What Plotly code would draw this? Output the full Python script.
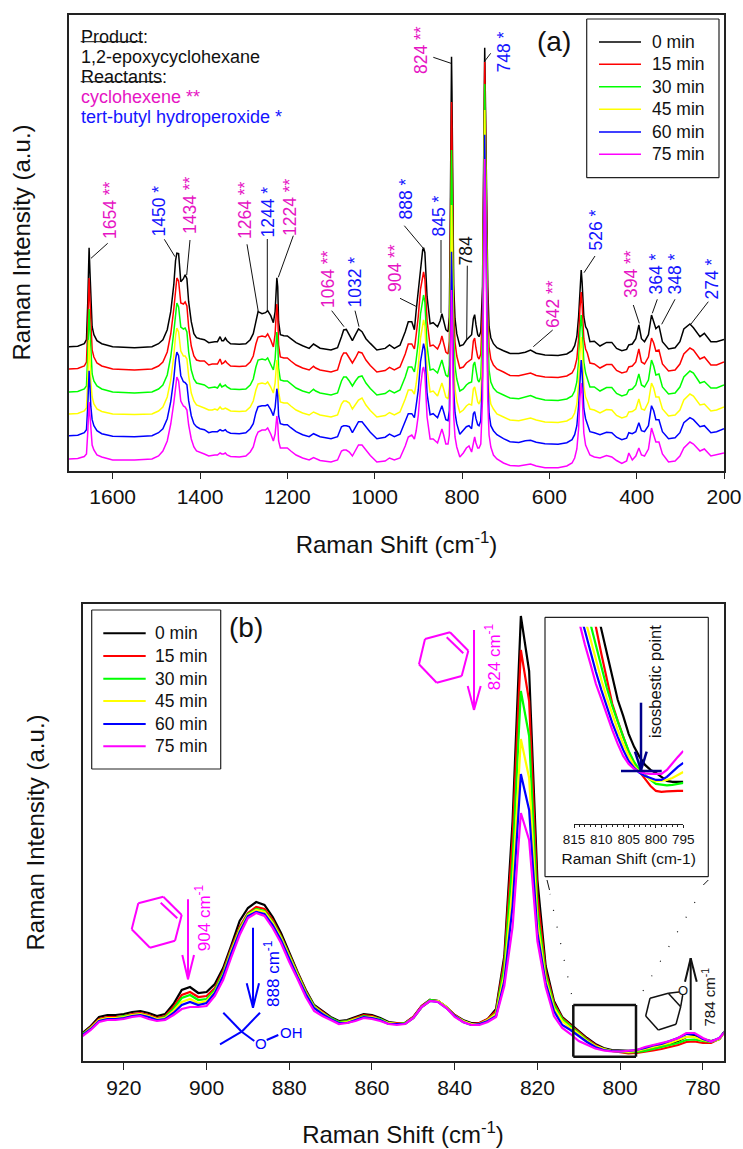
import plotly.graph_objects as go

W, H = 743, 1149
FONT = "Liberation Sans, Arial, sans-serif"
MINUTES = ["0 min", "15 min", "30 min", "45 min", "60 min", "75 min"]
COLORS = ["#000000", "#FF0000", "#00FF00", "#FFFF00", "#0000FF", "#FF00FF"]
PINK = "#E614C4"
BLUE = "#1414FF"
INK = "#111111"

# ---- Panel (a): Raman shift and net intensity of each spectrum ----
shift_a = [
    1700,1680,1665,1660,1657,1654,1652,1650,1647,1643,
    1636,1625,1600,1550,1510,1495,1485,1475,1467,1460,
    1456,1453,1449,1444,1438,1434,1430,1426,1420,1414,
    1408,1400,1390,1380,1372,1366,1360,1354,1350,1346,
    1342,1338,1330,1310,1295,1285,1278,1272,1267,1258,
    1250,1245,1238,1232,1228,1224,1222,1220,1216,1208,
    1200,1192,1180,1165,1150,1140,1135,1125,1100,1085,
    1076,1071,1065,1058,1051,1044,1037,1029,1020,1010,
    995,976,966,955,942,930,923,915,909,905,
    900,895,890,888,885,880,873,866,856,850,
    846,842,837,832,829,827,825,824,823,821,
    819,816,812,805,797,790,784,778,774,771,
    768,764,761,757,753,750,748,746,744,741,
    738,734,728,720,705,690,670,655,643,630,
    610,580,560,548,542,537,533,530,527,525,
    523,521,517,513,507,497,484,469,457,446,
    434,423,418,410,402,395,389,382,373,366,
    361,356,349,341,327,312,301,292,278,270,
    255,245,230,217,200]
a_0 = [
    0,0.5,3,7,45,99,75,42,20,12,
    6,3,0,-1,0,3,7,17,35,62,
    86,93.5,93,65,68,72,68,45,25,13,
    9,8,7,4,5,5,5,10,6,6,
    8.7,6,3,2.5,3,7,13,25,35,33,
    34,36,31,24,35,69,60,25,12,11,
    10.7,8,4,1,-1.7,2.7,1,-1.5,-3.3,-1,
    10,16.7,17.3,12,6,12,17.7,15,8,3.3,
    -3.3,-1.7,1.7,-1.7,1.5,15,25,25,17,36,
    55,80,97,99,94,50,23,24,20,26,
    33,26,17,15,30,120,250,290,255,140,
    62,28,13,0.7,2,6.7,9,12,28,32,
    22,12,10,15,60,200,299,235,140,60,
    20,9,3,-1,-4,-6.7,-6.7,-5.5,-3.3,-6.5,
    -8.3,-8.7,-7.3,-4,1,10,30,60,76.7,65,
    45,30,20,17,5,5.5,0.7,4.3,4.3,-1.7,
    -4,-2.7,1.7,2.7,8,21.7,8,5,12,31.7,
    25,18,21,5,-2.3,-1,5,17.7,22.7,19,
    10,13.3,5,5,7.3]
a_15 = [
    0,0.5,3,7,42,91,69,39,19,12,
    6,3,0,-1,0,3,7,17,35,60,
    82,91,88,66,65,67,63,42,23,13,
    9,8,8,4,5,5,5,10,5,6,
    8,6,3,2.5,3,7,13,25,32,33,
    32,35,29,22,35,65,54,24,12,11,
    11,8,4,1,-1,2.7,1,-1,-3,-1,
    12,16,16,11,6,11,17,16,9,3.5,
    -3,-1.5,1.7,-1,2,15,25,25,20,34,
    53,80,96,97,90,48,23,24,20,26,
    33,26,17,15,28,110,230,267,235,125,
    58,27,13,0.7,2,6,8,10,28,31,
    21,12,10,15,60,205,307,240,145,60,
    22,10,4,0,-3,-6.5,-6.7,-5,-4,-6.5,
    -8,-8.5,-7,-4,1,10,30,60,77,65,
    45,30,20,16,6,5,1,4.5,4.5,-1.5,
    -4,-2.7,2,3,7,20,7,5,12,31,
    26,18,19,5,-2,-1,5,15,21,19,
    10,12,4,4,7]
a_30 = [
    0,0.5,3,6,38,83,63,36,18,11,
    6,3,0,-1,0,3,7,17,35,60,
    80,89,85,65,63,64,60,40,22,13,
    9,8,7,4,5,5,4,8,5,6,
    7,5,3,2.5,3,7,13,25,32,33,
    32,34,27,22,33,60,50,24,12,11,
    11,8,4,1,-1,2.7,1,-1,-3,-1,
    11,15,15,11,6,11,15,16,9,3.5,
    -3,-1.5,1.7,-1,2,15,25,25,20,32,
    50,78,96,97,90,46,22,23,19,26,
    32,25,17,15,27,100,210,242,212,115,
    55,26,13,1,3,7,9,10,27,30,
    20,12,10,15,60,205,308,240,145,60,
    22,10,4,0,-3,-6,-6.7,-5,-3.5,-6,
    -8,-8.5,-7,-4,1,10,30,60,77,65,
    45,30,19,14,5,5,1,4.5,4.5,-1.5,
    -4,-2.5,2,3,7,18,7,5,12,32,
    26,17,18,5,-2,-1,5,15,21,19,
    9,10.5,4,4,7]
a_45 = [
    0,0.5,3,6,34,74,56,32,17,10,
    5,2.5,0,-0.5,0,3,7,17,34,58,
    78,86,82,63,58,58,55,38,21,13,
    9,8,6,4,4,5,4,7,5,5,
    6,5,3,2.5,3,7,13,24,30,31,
    30,32,27,21,31,54,45,22,12,11,
    11,8,4,1,-1,2,1,-1,-3,-1,
    10,13,13,11,5,10,14,16,9,3.5,
    -3,-1.5,1.5,-1,2,15,24,24,20,30,
    48,76,93,94,88,45,22,23,18,25,
    31,25,17,15,26,90,180,209,185,100,
    50,25,13,1.5,4,8,10,9,25,27,
    19,12,10,15,60,200,304,238,143,60,
    22,10,5,0,-3,-6,-6.7,-5,-4,-6,
    -8,-8.5,-7,-4,1,10,30,60,77,65,
    45,28,17,13,5,4,1,4.5,4,-1.5,
    -4,-2.5,2,2.5,5,15,5,4,12,31,
    26,17,17,5,-2,-1,4,14,20,18,
    9,10,3,4,7]
a_60 = [
    0,0.5,3,6,30,65,50,29,16,10,
    5,2,-0.5,-1,0,3,7,17,34,57,
    76,83.5,80,60,54,53,51,35,20,12,
    9,7,6,3,4,4,4,6,5,5,
    6,4,2.5,2,3,7,12,23,29,30,
    30,31,26,20,28,47,40,20,12,11,
    11,8,4,1,-1,2,1,-1,-3,-1,
    9,10,10,9,3,9,14,14,9,3.5,
    -3,-1.5,1.5,-1,1.5,14,22,22,18,30,
    46,74,91,92,86,42,21,22,18,25,
    30,24,16,15,25,80,160,184,160,90,
    46,23,12,1.5,5,9,10,7,22,24,
    17,11,10,15,60,200,301,235,140,60,
    22,10,5,1,-3,-6,-6.7,-5,-4.5,-6.5,
    -8,-8.5,-7,-4,1,10,30,60,75.6,64,
    43,27,17,12,4,3,1,3.5,3,-1.5,
    -4,-2.5,3,2,4,13,5,4,10,30,
    25,16,16,4,-3,-2,3,13,18,16,
    9,10,3,4,7]
a_75 = [
    0,0.5,2.5,5,27,57,44,26,14,9,
    4,2,-1,-1,0,3,8,18,35,56,
    75,82,78,58,53,52,49,34,20,12,
    8,7,5,3,4,4,4,6,5,5,
    6,4,2.5,2,3,7,12,22,27,29,
    29,31,25,18,25,43,36,18,11,11,
    11,8,4,1,-1,1.5,0.5,-1.5,-3,-1,
    8,9,9,7,3,8,14,14,9,3.5,
    -3,-2,1,-1,1,13,22,24,20,28,
    44,72,90,92,85,42,20,20,16,25,
    30,24,15,15,24,75,145,169,148,82,
    43,22,12,2,6,11,13,7,18,22,
    16,11,11,15,60,198,300,232,138,58,
    24,12,4,0,-4,-6.5,-7,-6,-5,-7,
    -8.7,-8.7,-7,-4,1,10,30,60,76,65,
    43,26,14,10,4,2,1,3.5,2,-1.5,
    -4.5,-2,6,-1,3,11,4,3,10,31,
    24,17,17,5,-3,-2,3,11,17,15,
    8,10,3,4,6]
spectra_a = [a_0, a_15, a_30, a_45, a_60, a_75]
stack_offset_a = [123.8, 101.5, 78.5, 56.5, 34.8, 11.5]

# ---- Panel (b): 930-774 cm-1 close-up ----
shift_b = [
    930,928,926,924,922,920,918,916,914,912,
    910,908,906,904,902,900,898,896,894,892,
    890,888,886,884,882,880,878,876,874,872,
    870,868,866,864,862,860,858,856,854,852,
    850,848,846,844,842,840,838,836,834,832,
    830,828,826,824,822,820,818,816,814,812,
    810,808,806,804,802,800,798,796,794,792,
    790,788,786,784,782,780,778,776,774]
b_0 = [
    28,35,44,46,46,47,49,50,48,45,
    47,57,71,74,68,69,77,93,116,140,
    153,159,156,144,128,108,89,71,56,50,
    44,40,41,44,47,46,43,39,38,38,
    44,55,61,60,54,46,41,38,38,42,
    52,105,240,445,390,181,95,60,44,37,
    30,23,17,13,11,10.5,10,10,11,13,
    15,17,20,24,25,22,20,22,34]
b_15 = [
    27,34,42,44,44,45,47,48,46,43,
    45,54,66,69,64,65,73,90,113,134,
    148,154,152,141,125,106,88,70,55,49,
    43,39,40,43,46,45,42,38,38,38,
    44,55,61,60,54,46,40,37,38,42,
    50,100,222,411,360,165,90,58,43,36,
    29,22,16,12,10,8.5,7.5,8,9,10.5,
    12,14,16,19,19.5,18,18,22,33]
b_30 = [
    27,33,41,43,43,45,46,47,45,42,
    44,52,63,66,61,62,71,88,111,132,
    147,152,150,139,124,105,87,69,55,48,
    43,39,40,42,45,44,42,38,37,38,
    43,54,61,60,54,45,40,37,37,41,
    48,94,200,370,325,150,86,56,42,35,
    28,21,15,12,10,9,8.5,9,10,12,
    14,16,18,21,21.5,20,19,22,33]
b_45 = [
    26,33,41,43,43,44,46,47,45,42,
    43,50,59,62,58,60,69,86,110,131,
    146,151,149,138,123,104,86,68,54,48,
    42,38,39,42,44,44,41,38,37,37,
    43,54,60,60,54,45,40,37,37,41,
    47,86,175,322,283,138,82,53,40,33,
    27,20,15,12,10,9.5,9,10,12,14,
    16,18,21,24,24,21,19.5,22,33]
b_60 = [
    26,32,40,42,42,43,45,46,44,41,
    42,48,56,59,56,58,68,85,108,129,
    145,149,147,136,121,102,84,67,53,47,
    42,38,38,41,44,43,41,37,37,37,
    43,54,60,59,53,45,39,36,37,40,
    45,80,155,287,251,128,78,50,36,31,
    25,19,14,11,10,9.5,10,11,13,15.5,
    17,20,23,27,27,22,19.5,23,33]
b_75 = [
    25,31,39,41,41,42,44,45,42,40,
    41,46,52,54,54,55,65,81,104,126,
    143,148,145,133,118,99,82,64,50,45,
    41,37,38,40,43,42,40,37,36,37,
    43,54,60,59,53,44,39,36,36,39,
    44,75,134,248,221,120,74,45,33,27,
    20,16,12.5,10.5,9.5,9.5,10,11,14,16,
    18,20,23,28,28,23,19.5,23,32]
spectra_b = [b_0, b_15, b_30, b_45, b_60, b_75]

# ---- Inset: isosbestic point ----
shift_i = [815,814,813,812,811,810,809,808,807,806,805,804,803,802,801,800,799,798,797,796,795]
i_0  = [310,285,262,240,218,195,172,148,124,108,90,77,67,59,54,51,47,43,42,42,42]
i_15 = [280,255,235,215,197,170,146,120,103,87,72,61,52,45,38,33,32,32.5,33,33,33]
i_30 = [265,240,219,200,178,156,136,118,102,87,73,62,54,49,44,40,39,38.5,39,40,41]
i_45 = [250,226,205,185,164,144,126,109,94,80,68,58,52,48,44.5,42.5,43,44,46,49,52]
i_60 = [235,212,193,172,152,134,117,101,87,74,63,56,51,48,46,44,44,47,52,57,61]
i_75 = [222,199,179,160,140,125,109,94,80,68,60,55,52,50.5,50,49.7,50,54,61,67,73]
spectra_i = [i_0, i_15, i_30, i_45, i_60, i_75]

# ---- Peak labels of panel (a): text, colour ----
peak_labels = ["1654 **","1450 *","1434 **","1264 **","1244 *","1224 **","1064 **","1032 *","904 **",
               "888 *","845 *","784","824 **","748 *","526 *","642 **","394 **","364 *","348 *","274 *"]
peak_colors = [PINK,BLUE,PINK,PINK,BLUE,PINK,PINK,BLUE,PINK,BLUE,BLUE,INK,PINK,BLUE,BLUE,PINK,PINK,BLUE,BLUE,BLUE]
peak_cx = [110,158,190,245,267,290,328,355,395,405,438,465,421,503,595,553,631,655,674,712]
peak_bottom = [239,237,234,239,238,236,308,308,292,220,237,265,74,73,251,328,298,295,295,300]
peak_leaders = [
    (107.7,243.3,91,258.3),(164.3,239.3,175,256.7),(190,240,186.7,275),(247,244.3,258.3,311.7),
    (267.3,239,267.3,311),(293.3,235.7,278.3,277.3),(331.7,310.7,344,326.7),(355,310.7,359,326.7),
    (400,298.3,416.7,306.7),(404.3,225.7,423.3,248.3),(441,240,441,313),(467.3,265.7,466.7,340),
    (433.3,57.3,451,63.3),(490.7,53.3,484.3,61.7),(595,256,584,272.7),(552.7,330,533.3,346.7),
    (633.3,305,639.3,323.3),(657.3,299.3,652.3,313.3),(675,299.3,661.7,324.3),(708.3,301.7,691,324)]


def px(x):
    return x / W


def py(y):
    return 1 - y / H


def dom(a, b, size):
    return [a / size, b / size]


shapes = []
annotations = []


def seg(x0, y0, x1, y1, color=INK, width=1.0, dash=None):
    line = dict(color=color, width=width)
    if dash:
        line["dash"] = dash
    shapes.append(dict(type="line", xref="paper", yref="paper", x0=px(x0), y0=py(y0),
                       x1=px(x1), y1=py(y1), line=line))


def poly(points, color, width=2.0):
    for (a, b), (c, d) in zip(points[:-1], points[1:]):
        seg(a, b, c, d, color, width)


def note(text, x, y, size, color=INK, angle=0, xanchor="center", yanchor="middle"):
    annotations.append(dict(text=text, x=px(x), y=py(y), xref="paper", yref="paper", showarrow=False,
                            font=dict(family=FONT, size=size, color=color), textangle=angle,
                            xanchor=xanchor, yanchor=yanchor, borderpad=0, borderwidth=0))


def key_box(x0, y0, x1, y1, rows, key0, key1, text_x, line_w, size):
    poly([(x0,y0),(x1,y0),(x1,y1),(x0,y1),(x0,y0)], "#222222", 1.2)
    for name, col, r in zip(MINUTES, COLORS, rows):
        seg(key0, r, key1, r, col, line_w)
        note(name, text_x, r, size, INK, 0, "left")


fig = go.Figure()

for name, col, vals, off in zip(MINUTES, COLORS, spectra_a, stack_offset_a):
    fig.add_trace(go.Scatter(x=shift_a, y=[v + off for v in vals], mode="lines", name=name, showlegend=False,
                             line=dict(color=col, width=1.5), xaxis="x", yaxis="y"))
for name, col, vals in zip(MINUTES, COLORS, spectra_b):
    fig.add_trace(go.Scatter(x=shift_b, y=vals, mode="lines", name=name, showlegend=False,
                             line=dict(color=col, width=2.2), xaxis="x2", yaxis="y2"))
for name, col, vals in zip(MINUTES, COLORS, spectra_i):
    fig.add_trace(go.Scatter(x=shift_i, y=vals, mode="lines", name=name, showlegend=False,
                             line=dict(color=col, width=2.2), xaxis="x3", yaxis="y3"))

key_box(586.7, 19, 719, 177.7, [42, 64.3, 86.7, 109.3, 132, 154.3], 599, 641, 651.7, 1.5, 17.5)
key_box(91.7, 610, 220.7, 769, [633.3, 656, 678.7, 701, 724, 746.3], 103.3, 145.7, 155, 2, 17.5)

# Panel (a) text
for t, c, x, b in zip(peak_labels, peak_colors, peak_cx, peak_bottom):
    note(t, x, b, 17.5, c, -90, "center", "bottom")
for leader in peak_leaders:
    seg(*leader)
note("Product:", 81, 37, 18, INK, 0, "left")
note("1,2-epoxycyclohexane", 81, 57, 18, INK, 0, "left")
note("Reactants:", 81, 77, 18, INK, 0, "left")
note("cyclohexene **", 81, 97, 18, PINK, 0, "left")
note("tert-butyl hydroperoxide *", 81, 117, 18, BLUE, 0, "left")
seg(80.7, 41.7, 142.7, 41.7, INK, 1)
seg(80.7, 81.7, 162, 81.7, INK, 1)
note("(a)", 553.5, 42, 28, INK)
note("(b)", 245.5, 627, 28, INK)

# Panel (b) decorations
hexagon_a = [(425,639),(450,632.3),(468.3,650.7),(461.7,676),(436.7,682.7),(419,664.3),(425,639)]
poly(hexagon_a, "#FF00FF")
seg(446.7, 637.3, 463.3, 653.3, "#FF00FF", 2)
poly([(474,630),(474,710)], "#FF00FF", 2)
poly([(467.7,686),(474,710),(480.7,686)], "#FF00FF", 2)
note("824 cm<sup>-1</sup>", 492.7, 690, 17, "#FF00FF", -90, "center", "bottom")

hexagon_b = [(138.3,903.3),(163.3,896.7),(181.7,915),(175,940.7),(150,947.7),(131.7,929.3),(138.3,903.3)]
poly(hexagon_b, "#FF00FF")
seg(160.7, 902.7, 177.3, 918.3, "#FF00FF", 2)
poly([(188,899.3),(188,979.3)], "#FF00FF", 2)
poly([(182.3,955),(188,979.3),(194,955)], "#FF00FF", 2)
note("904 cm<sup>-1</sup>", 203, 950.7, 17, "#FF00FF", -90, "center", "bottom")

poly([(253,927.7),(253,1007.7)], "#0000FF", 2)
poly([(246.7,983.3),(253,1007.7),(259,983.3)], "#0000FF", 2)
note("888 cm<sup>-1</sup>", 271.7, 1006.7, 17, "#0000FF", -90, "center", "bottom")
seg(241.7, 1031.7, 223.3, 1012.7, "#0000FF", 2)
seg(241.7, 1031.7, 260, 1012.7, "#0000FF", 2)
seg(241.7, 1031.7, 220, 1044.3, "#0000FF", 2)
seg(241.7, 1031.7, 254.3, 1041, "#0000FF", 2)
seg(266.7, 1040, 278.3, 1035, "#0000FF", 2)
note("O", 260.7, 1043.3, 15, "#0000FF")
note("OH", 291, 1032.7, 15, "#0000FF")

poly([(650,998.3),(668.3,993.3),(680.7,1006.7),(676,1024.3),(658.3,1030),(645.7,1016),(650,998.3)], INK, 1.5)
seg(668.3, 993.3, 679, 992, INK, 1.5)
seg(680.7, 1006.7, 682.7, 995, INK, 1.5)
note("O", 682.7, 990.7, 13, INK)
poly([(690.7,1030),(690.7,958.3)], INK, 2)
poly([(685,981.7),(690.7,958.3),(696.7,981.7)], INK, 2)
note("784 cm<sup>-1</sup>", 708.3, 1026.7, 15, INK, -90, "center", "bottom")

# Zoom box and connectors
poly([(573.3,1005),(636,1005),(636,1056.7),(573.3,1056.7),(573.3,1005)], INK, 2.5)
seg(547, 880, 549.5, 890, INK, 1)
seg(571.5, 994, 550, 894, INK, 1.2, "1px,16px")
seg(643, 991, 701, 891.7, INK, 1.2, "1px,16px")
seg(703.3, 885, 708.3, 880, INK, 1)

# Inset frame and arrow
poly([(545,617.3),(708.3,617.3),(708.3,876.7),(545,876.7),(545,617.3)], "#222222", 1.2)
note("isosbestic point", 655, 682, 16.5, INK, -90)
NAVY = "#00008B"
poly([(641,702.7),(641,770)], NAVY, 2.5)
poly([(635,751.7),(641,770),(646.7,751.7)], NAVY, 2.5)
seg(621, 771, 661.7, 771, NAVY, 2.5)

axis_common = dict(showgrid=False, zeroline=False, showline=True, linecolor="#222222", linewidth=1.5,
                   mirror=True, ticks="outside", tickcolor="#222222", ticklen=7, tickwidth=1.2,
                   tickfont=dict(family=FONT, size=21, color=INK))
y_common = dict(showgrid=False, zeroline=False, showline=True, linecolor="#222222", linewidth=1.5,
                mirror=True, ticks="", showticklabels=False)
title_font = dict(family=FONT, size=24, color=INK)

fig.update_layout(
    width=W, height=H, margin=dict(l=0, r=0, t=0, b=0, autoexpand=False), paper_bgcolor="white", plot_bgcolor="white",
    font=dict(family=FONT, color=INK), showlegend=False,
    shapes=shapes, annotations=annotations,
    xaxis=dict(axis_common, domain=dom(69, 724, W), range=[1700, 200], tick0=200, dtick=200, anchor="y",
               title=dict(text="Raman Shift (cm<sup>-1</sup>)", font=title_font, standoff=29)),
    yaxis=dict(y_common, domain=[py(470.5), py(14.5)], range=[0, 456], anchor="x",
               title=dict(text="Raman Intensity (a.u.)", font=title_font, standoff=30)),
    xaxis2=dict(axis_common, domain=dom(82.5, 723.5, W), range=[930, 775], tick0=780, dtick=20, anchor="y2",
                title=dict(text="Raman Shift (cm<sup>-1</sup>)", font=title_font, standoff=28)),
    yaxis2=dict(y_common, domain=[py(1061), py(604)], range=[0, 457], anchor="x2",
                title=dict(text="Raman Intensity (a.u.)", font=title_font, standoff=29)),
    xaxis3=dict(domain=dom(574, 683.3, W), range=[815, 795], tick0=795, dtick=5, anchor="y3", showgrid=False,
                zeroline=False, showline=True, linecolor="#222222", linewidth=1, ticks="outside", ticklen=3,
                tickcolor="#222222", tickfont=dict(family=FONT, size=13.5, color=INK),
                minor=dict(dtick=1, ticks="outside", ticklen=2, tickcolor="#222222"),
                title=dict(text="Raman Shift (cm-1)", font=dict(family=FONT, size=15.5, color=INK), standoff=6)),
    yaxis3=dict(domain=[py(824), py(626.7)], range=[0, 197], anchor="x3", visible=False),
)

fig.write_html("out.html", config={"displayModeBar": False},
               post_script="document.body.style.margin='0';document.documentElement.style.overflow='hidden';")
